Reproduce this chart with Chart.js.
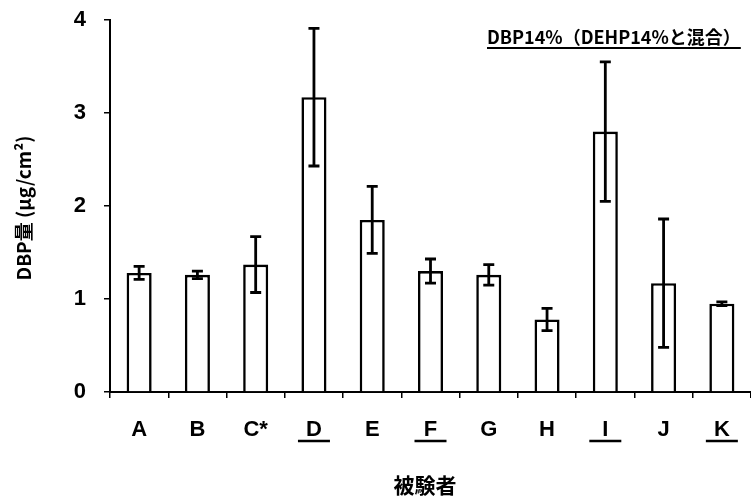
<!DOCTYPE html>
<html>
<head>
<meta charset="utf-8">
<script src="https://cdn.jsdelivr.net/npm/chart.js@4.4.1/dist/chart.umd.min.js"></script>
<style>
  html, body { margin: 0; padding: 0; background: #fff; }
  #wrap { width: 751px; height: 497px; }
</style>
</head>
<body>
<div id="wrap"><canvas id="c" width="751" height="497"></canvas></div>
<script>
// Subjects, mean DBP amount (μg/cm²) and standard deviation
const subjects = ['A', 'B', 'C*', 'D', 'E', 'F', 'G', 'H', 'I', 'J', 'K'];
const dbpMeans = [1.28, 1.26, 1.37, 3.17, 1.85, 1.30, 1.26, 0.78, 2.80, 1.17, 0.95];
const dbpSD    = [0.07, 0.04, 0.30, 0.74, 0.36, 0.13, 0.11, 0.12, 0.75, 0.69, 0.02];
// Subjects whose sample was mixed with DEHP (underlined labels)
const mixedWithDEHP = [false, false, false, true, false, true, false, false, true, false, true];
const yTicks = [0, 1, 2, 3, 4];

const noteText = 'DBP14%（DEHP14%と混合）';
const yTitle = 'DBP量 (μg/cm²)';
const xTitle = '被験者';

const LATIN = '"Liberation Sans", Arial, sans-serif';
const CJK = '"Noto Sans CJK JP", "Liberation Sans", sans-serif';

// plot area top edge in canvas pixels
const PLOT_TOP = 20;

const errorBars = {
  id: 'errorBars',
  afterDatasetsDraw(chart) {
    const { ctx, scales: { y } } = chart;
    const meta = chart.getDatasetMeta(0);
    ctx.save();
    ctx.strokeStyle = '#000';
    ctx.lineWidth = 2.8;
    ctx.lineCap = 'butt';
    meta.data.forEach((bar, i) => {
      const x = bar.x;
      const hi = y.getPixelForValue(dbpMeans[i] + dbpSD[i]);
      const lo = y.getPixelForValue(dbpMeans[i] - dbpSD[i]);
      const cap = 5.5;
      ctx.beginPath();
      ctx.moveTo(x, hi); ctx.lineTo(x, lo);
      ctx.moveTo(x - cap, hi); ctx.lineTo(x + cap, hi);
      ctx.moveTo(x - cap, lo); ctx.lineTo(x + cap, lo);
      ctx.stroke();
    });
    ctx.restore();
  }
};

const annotations = {
  id: 'annotations',
  afterDraw(chart) {
    const { ctx, scales: { x } } = chart;
    ctx.save();
    ctx.fillStyle = '#000';
    ctx.strokeStyle = '#000';

    // underline labels of mixed samples
    ctx.lineWidth = 2.5;
    subjects.forEach((s, i) => {
      if (!mixedWithDEHP[i]) return;
      const cx = x.getPixelForValue(i);
      ctx.beginPath();
      ctx.moveTo(cx - 16, 441);
      ctx.lineTo(cx + 16, 441);
      ctx.stroke();
    });

    // note at top right, underlined
    ctx.font = 'bold 18px ' + CJK;
    ctx.textAlign = 'left';
    ctx.textBaseline = 'alphabetic';
    const nx = 487;
    ctx.fillText(noteText, nx, 44);
    const w = ctx.measureText(noteText).width;
    ctx.lineWidth = 2;
    ctx.beginPath();
    ctx.moveTo(nx, 48);
    ctx.lineTo(nx + w, 48);
    ctx.stroke();

    // y-axis title
    ctx.save();
    ctx.translate(24, 208);
    ctx.rotate(-Math.PI / 2);
    ctx.textAlign = 'center';
    ctx.textBaseline = 'middle';
    ctx.font = 'bold 19px ' + CJK;
    ctx.fillText(yTitle, 0, 0);
    ctx.restore();

    // x-axis title
    ctx.textAlign = 'center';
    ctx.textBaseline = 'middle';
    ctx.font = 'bold 21px ' + CJK;
    ctx.fillText(xTitle, 425, 485);
    ctx.restore();
  }
};

const chart = new Chart(document.getElementById('c'), {
  type: 'bar',
  data: {
    labels: subjects,
    datasets: [{
      data: dbpMeans,
      backgroundColor: '#fff',
      borderColor: '#000',
      borderWidth: 2.6,
      borderSkipped: 'bottom',
      barPercentage: 0.43,
      categoryPercentage: 1.0
    }]
  },
  options: {
    responsive: false,
    devicePixelRatio: 1,
    animation: false,
    layout: { padding: { top: PLOT_TOP, right: 0, bottom: 0, left: 0 } },
    plugins: { legend: { display: false }, tooltip: { enabled: false }, title: { display: false } },
    scales: {
      x: {
        offset: true,
        grid: { offset: true, drawOnChartArea: false, drawTicks: true, tickLength: 6, color: '#000', lineWidth: 1.5 },
        border: { display: true, color: '#000', width: 2 },
        ticks: { color: '#000', font: { family: LATIN, size: 22, weight: 'bold' }, padding: 19, maxRotation: 0 },
        afterFit(scale) { scale.height = 105; scale.paddingLeft = 0; scale.paddingRight = 0; }
      },
      y: {
        min: 0, max: 4,
        afterBuildTicks(scale) { scale.ticks = yTicks.map(v => ({ value: v })); },
        grid: { drawOnChartArea: false, drawTicks: true, tickLength: 6, color: '#000', lineWidth: 1.5 },
        border: { display: true, color: '#000', width: 2 },
        ticks: { color: '#000', font: { family: LATIN, size: 22, weight: 'bold', lineHeight: 1 }, padding: 18 },
        afterFit(scale) { scale.width = 110; scale.paddingTop = 0; scale.paddingBottom = 0; }
      }
    }
  },
  plugins: [errorBars, annotations]
});

// settle the top padding so the plot area starts at PLOT_TOP
for (let k = 0; k < 6; k++) {
  const d = PLOT_TOP - chart.chartArea.top;
  if (Math.abs(d) < 0.5) break;
  chart.options.layout.padding.top = Math.max(0, chart.options.layout.padding.top + d);
  chart.update();
}
</script>
</body>
</html>
